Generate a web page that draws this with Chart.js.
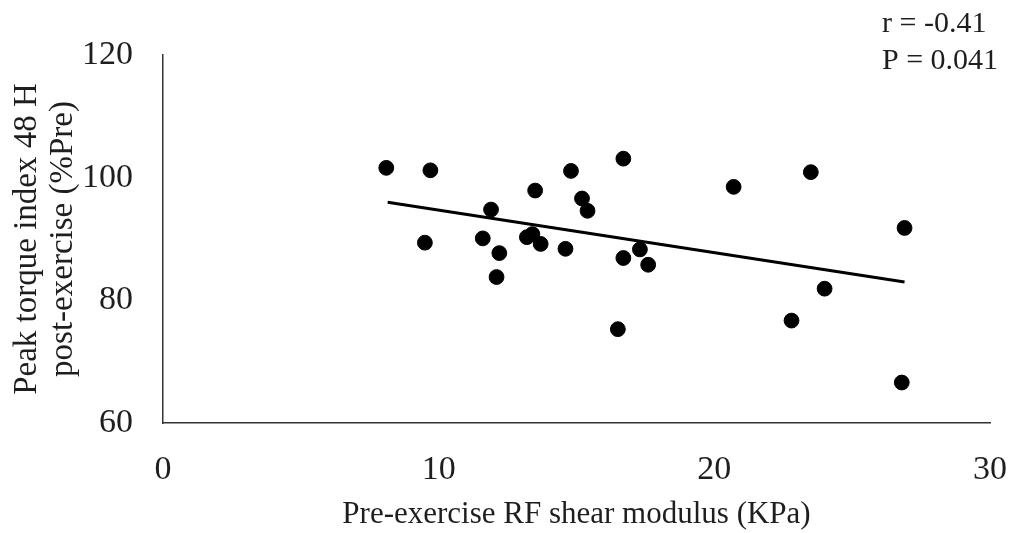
<!DOCTYPE html>
<html>
<head>
<meta charset="utf-8">
<script src="https://cdn.jsdelivr.net/npm/chart.js@4.4.1/dist/chart.umd.min.js"></script>
<style>
  html, body { margin: 0; padding: 0; background: #fff; }
  #wrap { width: 1015px; height: 533px; position: relative; }
</style>
</head>
<body>
<div id="wrap"><canvas id="shearChart" width="1015" height="533"></canvas></div>
<script>
// Shear modulus (KPa) vs peak torque index (%Pre)
const shearModulus = [8.1, 9.7, 9.5, 11.9, 11.6, 12.2, 12.1, 13.5, 13.2, 13.4, 13.7, 14.8, 15.2, 15.4, 14.6,
    16.7, 16.7, 17.3, 17.6, 16.5, 20.7, 23.5, 26.9, 24.0, 22.8, 26.8];
const peakTorque = [101.6, 101.2, 89.4, 94.8, 90.1, 87.7, 83.8, 97.9, 90.3, 90.8, 89.2, 101.1, 96.6, 94.6, 88.4,
    103.1, 86.9, 88.3, 85.8, 75.3, 98.5, 100.9, 91.8, 81.9, 76.7, 66.6];

// regression line end points
const trendX = [8.15, 26.9];
const trendY = [96.0, 83.0];

const xTicks = [0, 10, 20, 30];
const yTicks = [60, 80, 100, 120];
const statLines = ["r = -0.41", "P = 0.041"];

const serif = "'Liberation Serif', 'Times New Roman', serif";
const ink = "#1e1e1e";

const statsLabel = {
    id: "statsLabel",
    afterDraw(chart) {
        let ctx = chart.ctx;
        ctx.save();
        ctx.font = "30px " + serif;
        ctx.fillStyle = ink;
        ctx.textBaseline = "middle";
        ctx.textAlign = "left";
        ctx.fillText(statLines[0], 882, 24);
        ctx.fillText(statLines[1], 882, 61);
        ctx.restore();
    }
};

const ctx = document.getElementById("shearChart").getContext("2d");
new Chart(ctx, {
    type: "scatter",
    data: {
        datasets: [{
            label: "Subjects",
            data: shearModulus.map((x, i) => ({ x: x, y: peakTorque[i] })),
            backgroundColor: "#000",
            borderColor: "#000",
            pointRadius: 7.4,
            pointHoverRadius: 7.4,
            order: 2
        }, {
            label: "Trend",
            type: "line",
            data: trendX.map((x, i) => ({ x: x, y: trendY[i] })),
            borderColor: "#000",
            borderWidth: 3,
            pointRadius: 0,
            fill: false,
            order: 1
        }]
    },
    options: {
        responsive: false,
        animation: false,
        layout: { padding: { top: 55, right: 25, left: 0, bottom: 0 } },
        plugins: {
            legend: { display: false },
            tooltip: { enabled: false }
        },
        scales: {
            x: {
                type: "linear",
                min: 0,
                max: 30,
                afterBuildTicks: s => { s.ticks = xTicks.map(v => ({ value: v })); },
                afterFit: s => {
                    s.height = 110;
                    s.paddingLeft = 0;
                    s.paddingRight = 0;
                },
                grid: { display: false, drawTicks: false },
                border: { display: true, color: "#333", width: 1.5 },
                ticks: {
                    padding: 27,
                    color: ink,
                    font: { family: serif, size: 34 }
                },
                title: {
                    display: true,
                    text: "Pre-exercise RF shear modulus (KPa)",
                    color: ink,
                    font: { family: serif, size: 31 },
                    padding: { top: 0, bottom: 0 }
                }
            },
            y: {
                type: "linear",
                min: 60,
                max: 120,
                afterBuildTicks: s => { s.ticks = yTicks.map(v => ({ value: v })); },
                afterFit: s => {
                    s.width = 163;
                    s.paddingTop = 0;
                    s.paddingBottom = 0;
                },
                grid: { display: false, drawTicks: false },
                border: { display: true, color: "#333", width: 1.5 },
                ticks: {
                    padding: 30,
                    color: ink,
                    font: { family: serif, size: 34 }
                },
                title: {
                    display: true,
                    text: ["Peak torque index 48 H", "post-exercise (%Pre)"],
                    color: ink,
                    font: { family: serif, size: 33, lineHeight: 1.09 },
                    padding: { top: 9, bottom: 0 }
                }
            }
        }
    },
    plugins: [statsLabel]
});
</script>
</body>
</html>
